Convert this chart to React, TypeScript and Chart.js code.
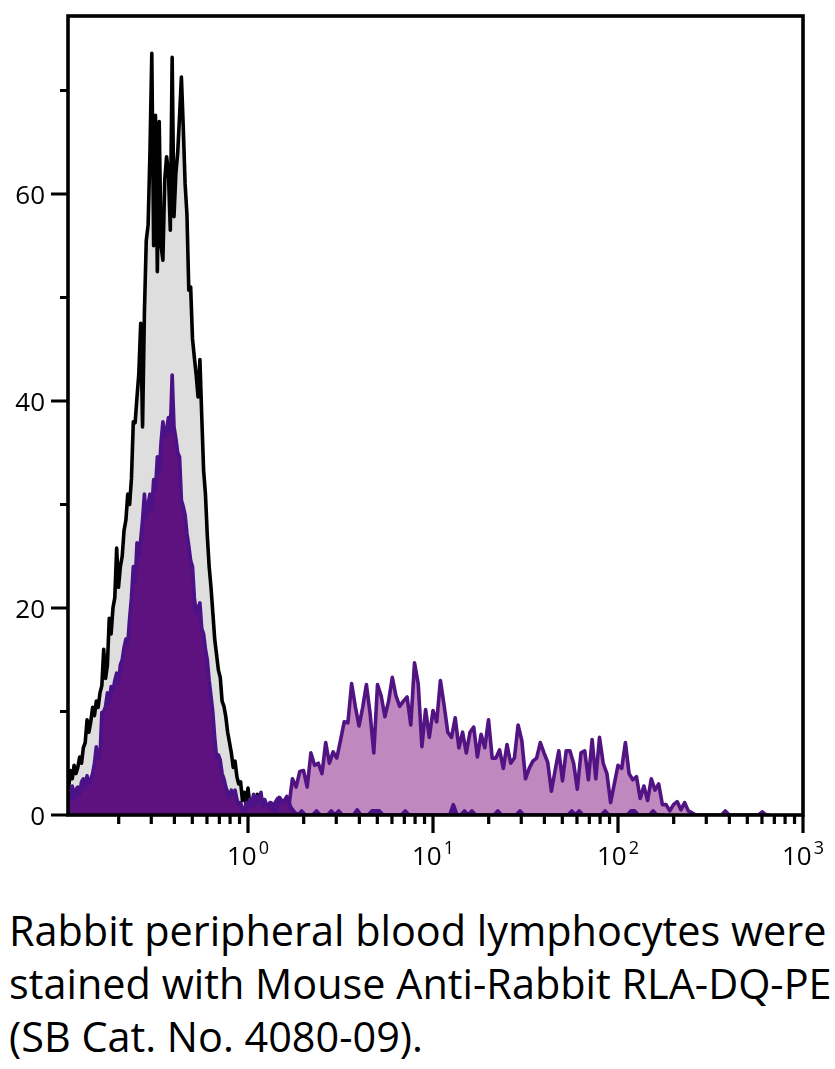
import React, { useEffect, useRef } from 'react';
import { Chart, registerables } from 'chart.js';

Chart.register(...registerables);

// Axis range (x in log10 units of fluorescence intensity)
const X_MIN = -0.973;
const X_MAX = 3;
const Y_MAX = 77.2;

// Histogram bin layout
const FINE_START = -0.97;
const FINE_STEP = 0.01;
const COARSE_STEP = 0.02;
const TAIL_START = 0.17;
const STAINED_START = 0.1;

// Unstained / isotype control (black outline, grey fill)
const controlCounts = [
  2.5, 4.3, 3.5, 4.8, 4.0, 4.6, 5.6, 5.0, 6.5, 7.0,
  9.2, 8.0, 9.0, 10.4, 9.6, 11.0, 10.4, 11.8, 12.5, 16.0,
  13.2, 14.5, 19.0, 17.5, 20.0, 21.0, 25.8, 22.0, 24.0, 25.0,
  27.5, 28.5, 31.0, 30.0, 32.5, 38.0, 37.9, 40.4, 42.7, 47.5,
  37.5, 48.5, 55.5, 57.0, 64.0, 73.6, 55.0, 67.6, 52.5, 67.0,
  55.0, 53.6, 61.4, 63.6, 62.0, 56.5, 73.2, 57.8, 62.0, 64.0,
  67.5, 71.3, 66.5, 61.0, 58.0, 50.7, 51.0, 46.0, 44.2, 42.5,
  40.4, 44.0, 38.5, 33.3, 31.0, 27.0, 24.0, 22.0, 19.5, 17.0,
  15.5, 14.0, 13.3, 11.0, 10.5, 9.5, 8.0, 7.0, 6.0, 4.6,
  5.2, 3.7, 3.0, 3.2, 1.4, 2.2, 1.0, 2.6, 1.0, 0.5,
  1.8, 0.6, 2.0, 0.5, 1.2, 0.3, 0.8, 0,
];

// Stained sample, negative population (dark purple fill)
const peakCounts = [
  2.0, 1.7, 2.8, 1.5, 2.5, 2.7, 2.0, 3.2, 3.5, 2.6,
  3.8, 3.0, 3.4, 4.0, 5.0, 6.6, 5.5, 5.6, 9.9, 10.0,
  10.5, 11.8, 10.8, 12.4, 12.0, 13.0, 13.7, 12.8, 14.5, 15.0,
  16.2, 17.0, 16.5, 19.0, 21.0, 24.0, 22.5, 26.3, 25.0, 26.6,
  28.5, 31.0, 28.8, 30.0, 31.0, 29.5, 32.4, 31.5, 34.6, 33.0,
  36.0, 38.0, 36.5, 37.2, 38.4, 37.0, 42.5, 37.5, 36.4, 35.0,
  34.6, 30.4, 29.8, 29.0, 27.2, 26.0, 24.6, 24.0, 21.0, 19.5,
  20.0, 20.5, 18.0, 17.5, 16.0, 15.0, 13.0, 11.5, 9.9, 7.5,
  5.6, 5.8, 5.3, 4.0, 3.5, 2.7, 2.2, 1.7, 2.4, 2.0,
  2.4, 1.5, 1.0, 1.2, 0.5, 0.3, 1.2, 0.8, 1.5, 0.8,
  2.0, 1.0, 1.8, 1.2, 2.2, 0.8, 1.5, 1.0, 0.8, 1.2,
  0.5, 1.0, 0.3,
];

// Same population, sparse events beyond the peak
const peakTailCounts = [
  1.7, 1.2, 1.8, 0.8, 0.3, 0, 0.4, 0, 0, 0,
  0.4, 0, 0, 0, 0.4, 0, 0.4, 0, 0, 0,
  0, 0.5, 0, 0, 0, 0.4, 0.4, 0.4, 0, 0,
  0, 0, 0, 0, 0.4, 0, 0, 0, 0, 0,
  0, 0, 0, 0, 0, 0, 0, 1.0, 0, 0,
  0.4, 0, 0.4, 0, 0, 0, 0, 0, 0, 0.4,
  0, 0, 0, 0, 0, 0.4, 0, 0, 0, 0,
  0, 0, 0, 0, 0, 0, 0, 0, 0, 0.4,
  0, 0.4, 0, 0, 0, 0, 0, 0, 0.4, 0,
  0, 0, 0, 0, 0, 0.4, 0.4, 0, 0, 0,
  0, 0.4, 0, 0, 0,
];

// Stained sample, RLA-DQ positive population (light purple fill)
const stainedCounts = [
  0.8, 1.2, 1.0, 1.6, 1.2, 1.4, 0.7, 3.5, 2.7, 4.2,
  4.3, 2.7, 6.0, 4.8, 5.0, 4.0, 7.0, 5.0, 6.1, 5.5,
  7.2, 9.0, 8.9, 12.7, 10.5, 8.6, 10.4, 12.6, 9.8, 6.0,
  12.6, 11.5, 9.5, 11.0, 13.3, 11.5, 10.5, 11.0, 11.4, 8.7,
  14.7, 12.7, 6.6, 10.2, 7.5, 10.1, 9.0, 13.0, 10.6, 8.0,
  7.5, 9.4, 6.5, 8.0, 6.0, 8.0, 8.5, 5.6, 7.8, 6.5,
  9.2, 5.5, 5.5, 6.3, 4.5, 6.8, 5.0, 5.5, 8.7, 7.2,
  3.5, 4.5, 5.2, 5.5, 7.0, 6.0, 5.1, 2.3, 4.3, 6.2,
  3.3, 6.2, 6.2, 5.0, 2.5, 6.0, 6.2, 3.4, 7.3, 3.5,
  7.5, 5.0, 4.0, 1.2, 3.0, 4.8, 4.5, 7.0, 4.0, 3.4,
  3.7, 1.6, 2.8, 1.4, 3.5, 2.4, 3.0, 1.0, 1.0, 0.4,
  1.0, 1.3, 0.5, 1.2, 0.4, 0.2, 0, 0, 0, 0,
  0, 0, 0, 0, 0.4, 0, 0, 0, 0, 0,
  0, 0, 0, 0, 0.3, 0, 0,
];

const yMajorTicks = [0, 20, 40, 60];
const yMinorTicks = [10, 30, 50, 70];
const decadeTicks = [0, 1, 2, 3];
const decadeBase = '10';
const decadeExponents = ['0', '1', '2', '3'];
const minorMultipliers = [2, 3, 4, 5, 6, 7, 8, 9];

const captionLines = [
  'Rabbit peripheral blood lymphocytes were',
  'stained with Mouse Anti-Rabbit RLA-DQ-PE',
  '(SB Cat. No. 4080-09).',
];

const FONT = '"Open Sans", "Noto Sans", sans-serif';
const LINE_W = 3.6;

function toPoints(start: number, step: number, counts: number[]) {
  return counts.map((y, i) => ({ x: start + i * step, y }));
}

const axesPlugin = {
  id: 'flowAxes',
  afterDatasetsDraw(chart: any) {
    const { ctx, chartArea: a, scales } = chart;
    const xs = scales.x;
    const ys = scales.y;
    ctx.save();
    ctx.strokeStyle = '#000';
    ctx.lineWidth = 3.6;
    ctx.lineCap = 'butt';
    ctx.strokeRect(a.left, a.top, a.right - a.left, a.bottom - a.top);

    ctx.lineWidth = 3.2;
    ctx.beginPath();
    yMajorTicks.forEach((v) => {
      const y = ys.getPixelForValue(v);
      ctx.moveTo(a.left - 17, y);
      ctx.lineTo(a.left, y);
    });
    yMinorTicks.forEach((v) => {
      const y = ys.getPixelForValue(v);
      ctx.moveTo(a.left - 8, y);
      ctx.lineTo(a.left, y);
    });
    decadeTicks.forEach((d) => {
      const x = xs.getPixelForValue(d);
      ctx.moveTo(x, a.bottom);
      ctx.lineTo(x, a.bottom + 18);
    });
    for (let d = -1; d < X_MAX; d++) {
      minorMultipliers.forEach((k) => {
        const v = d + Math.log10(k);
        if (v < X_MIN || v > X_MAX) return;
        const x = xs.getPixelForValue(v);
        ctx.moveTo(x, a.bottom);
        ctx.lineTo(x, a.bottom + 9);
      });
    }
    ctx.stroke();

    ctx.fillStyle = '#000';
    ctx.font = `26px ${FONT}`;
    ctx.textAlign = 'right';
    ctx.textBaseline = 'alphabetic';
    yMajorTicks.forEach((v) => {
      ctx.fillText(String(v), a.left - 23, ys.getPixelForValue(v) + 9.5);
    });

    ctx.textAlign = 'left';
    decadeTicks.forEach((d, i) => {
      const x = xs.getPixelForValue(d);
      ctx.font = `26px ${FONT}`;
      const w1 = ctx.measureText(decadeBase).width;
      ctx.font = `18px ${FONT}`;
      const w2 = ctx.measureText(decadeExponents[i]).width;
      const start = x - (w1 + w2 + 2) / 2;
      ctx.font = `26px ${FONT}`;
      ctx.fillText(decadeBase, start, a.bottom + 50);
      ctx.font = `18px ${FONT}`;
      ctx.fillText(decadeExponents[i], start + w1 + 2, a.bottom + 39);
    });
    ctx.restore();
  },
};

export default function App() {
  const canvasRef = useRef<HTMLCanvasElement | null>(null);

  useEffect(() => {
    const canvas = canvasRef.current;
    if (!canvas) return;
    const peakPoints = [
      ...toPoints(FINE_START, FINE_STEP, peakCounts),
      ...toPoints(TAIL_START, COARSE_STEP, peakTailCounts),
    ];
    const chart = new Chart(canvas, {
      type: 'line',
      data: {
        datasets: [
          {
            label: 'Control',
            data: toPoints(FINE_START, FINE_STEP, controlCounts),
            borderColor: '#000000',
            backgroundColor: 'rgb(222,222,222)',
            borderWidth: LINE_W,
            fill: 'origin',
            pointRadius: 0,
            tension: 0,
            borderJoinStyle: 'round',
            order: 3,
          },
          {
            label: 'RLA-DQ positive',
            data: toPoints(STAINED_START, COARSE_STEP, stainedCounts),
            borderColor: '#521483',
            backgroundColor: '#BF88BF',
            borderWidth: LINE_W,
            fill: 'origin',
            pointRadius: 0,
            tension: 0,
            borderJoinStyle: 'round',
            order: 2,
          },
          {
            label: 'RLA-DQ negative',
            data: peakPoints,
            borderColor: '#4B1287',
            backgroundColor: '#5D1280',
            borderWidth: LINE_W,
            fill: 'origin',
            pointRadius: 0,
            tension: 0,
            borderJoinStyle: 'round',
            order: 1,
          },
        ],
      },
      options: {
        animation: false,
        responsive: false,
        devicePixelRatio: 1,
        layout: { padding: { left: 68, right: 32, top: 16, bottom: 65 } },
        plugins: {
          legend: { display: false },
          tooltip: { enabled: false },
        },
        scales: {
          x: { type: 'linear', min: X_MIN, max: X_MAX, display: false },
          y: { type: 'linear', min: 0, max: Y_MAX, display: false },
        },
      },
      plugins: [axesPlugin],
    } as any);
    return () => chart.destroy();
  }, []);

  return (
    <div
      style={{
        position: 'absolute',
        left: 0,
        top: 0,
        width: 835,
        height: 1069,
        background: '#fff',
        overflow: 'hidden',
      }}
    >
      <canvas
        ref={canvasRef}
        width={835}
        height={880}
        style={{ display: 'block', width: 835, height: 880 }}
      />
      <div
        style={{
          position: 'absolute',
          left: 9,
          top: 904,
          fontFamily: FONT,
          fontSize: 41.4,
          lineHeight: '53px',
          color: '#000',
          whiteSpace: 'pre',
        }}
      >
        {captionLines.map((line) => (
          <div key={line}>{line}</div>
        ))}
      </div>
    </div>
  );
}
